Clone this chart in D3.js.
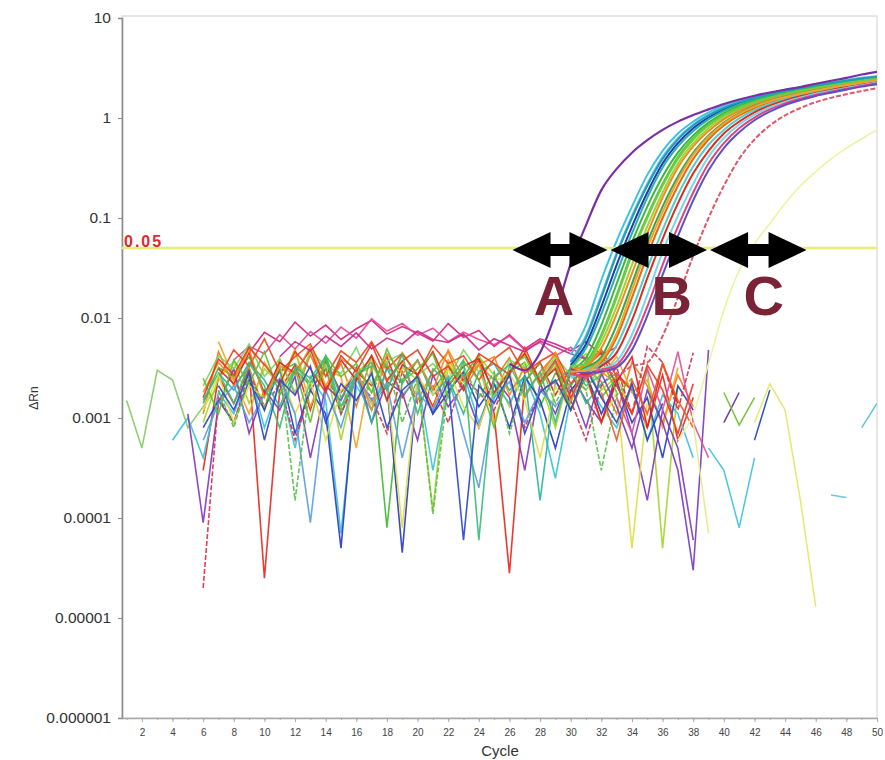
<!DOCTYPE html>
<html lang="en">
<head>
  <meta charset="UTF-8">
  <title>Amplification plot</title>
  <style>
    body { margin: 0; background: #fff; }
    svg { display: block; }
    text { font-family: "Liberation Sans", Arial, sans-serif; }
  </style>
</head>
<body>
  <div id="chart"></div>
  <script src="https://cdn.jsdelivr.net/npm/d3@7/dist/d3.min.js"></script>
  <script>
    // ---- data ----
    const yTicks = [10, 1, 0.1, 0.01, 0.001, 0.0001, 0.00001, 0.000001];
    const yTickLabels = ['10', '1', '0.1', '0.01', '0.001', '0.0001', '0.00001', '0.000001'];
    const xTickLabels = [2, 4, 6, 8, 10, 12, 14, 16, 18, 20, 22, 24, 26, 28, 30, 32, 34, 36, 38, 40, 42, 44, 46, 48, 50];
    const threshold = 0.05;

    // background wells (not amplified / pre-amplification noise): first cycle + dRn per cycle
    const noiseStart = [1, 6, 6, 7, 6, 6, 4, 6, 5, 9, 8, 6, 6, 6, 7, 6, 6, 7, 7, 30, 33, 32, 6, 6, 6, 7, 7, 11];
    const noiseValues = [
      [.0015, .0005, .003, .0024, .0008, .0013, .0021],
      [.0003, .0026, .0014, .0031, .000025, .0019, .0034, .0012, .0037, .0018, .0029, .0021, .0041, .0016, .0027, .0013, .0033, .0024, .0038, .0011, .000028, .0023, .0036, .0017, .0032, .0026, .0009, .0028, .0019, .0008, .0027, .0006, .0016],
      [.0011, .0046, .0021, .0032, .0012, .0039, .0017, .0043, .0019, .0035, .0013, .0042, .0023, .0037, .0015, .0029, .0046, .0019, .0034, .0024, .004, .0016, .0029, .0043, .0018, .0032, .0023, .0011, .0036, .0021, .0009, .0027, .0013],
      [.0058, .0025, .0011, .0036, .0021, .0049, .0013, .0031, .0026, .0005, .0034, .0019, .0045, .0027, .0012, .0038, .0023, .0035, .0009, .0029, .0046, .0021, .0033, .0014, .0037, .0026, .0041, .0018, .0024, .0008, .0032],
      [.0014, .0032, .0026, .0041, .0018, .0029, .0035, .0022, .0039, .0011, .0027, .0033, .00008, .0024, .0038, .0019, .0031, .0026, .0043, .0017, .0029, .0036, .0013, .0028, .0021, .0034, .0016, .0025],
      [.0009, .0025, .0037, .0014, .0031, .0022, .0045, .0019, .0034, .0006, .0028, .0039, .0015, .0032, .0024, .00012, .0035, .0021, .0041, .0027, .0013, .0036, .0023, .0008, .0031, .0044, .0019, .0026, .0011, .0033, .00005, .0021],
      [.0006, .001, .0004, .0018, .0011, .0029, .0008, .0023, .0005, .0026, .0015, .00007, .0021, .0012, .0031, .0017, .0025, .0003, .0019, .0028, .0009, .0022, .0014, .0027, .0011, .00025, .0016, .0024, .0013, .0008, .0021, .0006, .0017, .0011, .0004],
      [.0008, .0015, .0009, .0024, .0012, .0032, .0007, .0019, .0011, .00005, .0027, .0014, .0021, .000045, .0025, .0011, .0018, .0029, .0013, .0022, .0008, .0026, .0015, .0005, .0019, .0028, .0011, .0023, .0009, .0016, .0004, .0021, .0012],
      [.0011, .00009, .0014, .0031, .0007, .0019, .0012, .0026, .0004, .0021, .0015, .0032, .0009, .0023, .0018, .0006, .0027, .0013, .0021, .0008, .0025, .0016, .0003, .0022, .0011, .0028, .0015, .0009, .0024, .0007, .00015, .0012, .0005, .00006],
      [.0045, .0072, .0058, .0091, .0066, .0085, .0061, .0078, .0095, .0069, .0082, .0071, .0059, .0088, .0064, .0075, .0052, .0068, .0049, .0062, .0055, .0047, .0058, .0043, .0051],
      [.0038, .0052, .0044, .0068, .0049, .0073, .0056, .0081, .0063, .0098, .0074, .0088, .0067, .0079, .0058, .0072, .0061, .0054, .0066, .0048, .0057, .0042, .0051, .0039, .0046],
      [.00002, .0016, .0009, .0028, .0013, .0022, .0006, .0019, .0031, .0011, .0024, .0016, .0007, .0029, .0014, .0021, .0009, .0026, .0018, .0012, .0027, .0008, .0019, .0023, .0015, .0006, .0021, .0032, .0011, .0052, .0036, .0012, .0045],
      [.0015, .0028, .0019, .0036, .0024, .0013, .0031, .0021, .0042, .0016, .0027, .0009, .0033, .0022, .0038, .0017, .0025, .0011, .0029, .0035, .0019, .0026, .00015, .0023, .0031, .0014, .0022, .0028],
      [.0021, .0042, .0031, .0055, .0026, .0039, .0018, .0047, .0033, .0028, .0051, .0022, .0037, .0044, .0027, .0035, .0024, .0048, .0029, .0016, .0038, .0032, .0025, .0041, .0027, .0019, .0034],
      [.0025, .0048, .0033, .0062, .0029, .0041, .0055, .0026, .0047, .0036, .0058, .0031, .0044, .0027, .0053, .0035, .0042, .0024, .0039, .0051, .0028, .0037, .0045, .0022, .0034, .0048, .0026, .0019],
      [.0012, .0027, .0009, .0021, .0016, .0033, .0011, .0024, .0006, .0019, .0029, .0014, .0022, .00008, .0025, .0017, .0031, .0013, .0008, .0023, .0028, .0015, .0004, .0021, .0012, .0026, .0009, .0018, .00005, .0014],
      [.0006, .0014, .0021, .0009, .0017, .0025, .0011, .00009, .0019, .0008, .0027, .0015, .0022, .0004, .0018, .0012, .0026, .0007, .0002, .0016, .0023, .0009, .0019, .0013, .0021],
      [.0031, .0022, .0045, .0017, .0036, .0028, .0049, .0019, .0038, .0024, .0042, .0015, .0034, .0027, .0046, .0021, .0033, .0039, .0018, .0029, .0044, .0023, .0031, .0012, .0027, .0009, .0023, .0041, .0008, .0035, .0014],
      [.0019, .0008, .0026, .0013, .0034, .00015, .0023, .0031, .0012, .0027, .0018, .0036, .0009, .0025, .00011, .0021, .0033, .0016, .0029, .0007, .0024, .0035, .0014, .0028, .0019, .0003, .0017, .0025],
      [.0021, .0008, .0028, .0013, .0005, .0019, .0009, .0003, .00003, .0048],
      [.0016, .0007, .0031, .0012, .0046, .0009, .0004],
      [.0018, .0006, .0024, .0011, .0035, .0015, .0008],
      [.0018, .0036, .0024, .0049, .0016, .0033, .0027, .0052, .0021, .0039, .0031, .0012, .0044, .0028, .0037, .0019, .0048, .0025, .0034, .0041, .0017, .0032, .0026, .0045, .0015, .0038, .0029, .0022],
      [.0025, .0011, .0038, .0022, .0046, .0017, .0031, .0009, .0042, .0026, .0035, .0018, .0049, .0023, .0031, .0044, .0016, .0037, .0024, .0008, .0033, .0041, .0021, .0036, .0012, .0029, .0039, .0018],
      [.0016, .0039, .0027, .0051, .0034, .0022, .0046, .0031, .0018, .0042, .0029, .0055, .0024, .0037, .0048, .0026, .0033, .0019, .0044, .0035, .0027, .0051, .0023, .0038, .0016, .0032, .0045, .0021, .0011, .0034, .0019, .0007, .0022],
      [.0029, .0014, .0035, .0021, .0008, .0032, .0025, .0041, .0013, .0027, .0036, .0019, .0043, .0011, .0031, .0023, .0038, .00006, .0026, .0034, .0017, .0029, .0009, .0033, .0021, .0027],
      [.0021, .0012, .0029, .0006, .0024, .0017, .0033, .0009, .0022, .0015, .0028, .0008, .0019, .0026, .0011, .0023, .00006, .0021, .0014, .0027, .0007, .0018, .0024, .0012, .0031, .0016, .0009, .0022, .0006, .0014],
      [.0041, .0058, .0047, .0066, .0052, .0071, .0049, .0063, .0055, .0074, .0061, .0057, .0069, .0048, .0062, .0053, .0046, .0059, .0051, .0044, .0039]
    ];

    // late stray fragments on the right
    const strayStart = [40, 40, 42, 39, 42, 47, 49, 38];
    const strayValues = [
      [.0009, .0018],
      [.0018, .00085, .0016],
      [.0006, .0019],
      [.0005, .0003, .00008, .0004],
      [.0009, .0022, .0012, .00015, .000013],
      [.00017, .00016],
      [.0008, .0014],
      [.0009, .00007]
    ];

    // zone A: earliest amplification (from cycle 26)
    const earlyStart = 26;
    const earlyValues = [.0035, .003, .0045, .011, .035, .085, .19, .31, .45, .6, .76, .92, 1.07, 1.22, 1.38, 1.53, 1.67, 1.8, 1.92, 2.04, 2.2, 2.36, 2.52, 2.72, 2.9];

    // zone B: main group of amplification curves, cycles 30..50
    const bundleStart = 30;
    const bundleValues = [
      [.0043, .0085, .024, .059, .13, .27, .47, .7, .92, 1.14, 1.33, 1.5, 1.65, 1.78, 1.91, 2.04, 2.16, 2.28, 2.4, 2.52, 2.62],
      [.0037, .0067, .017, .045, .105, .22, .41, .63, .86, 1.08, 1.28, 1.45, 1.6, 1.75, 1.87, 2.0, 2.13, 2.25, 2.37, 2.49, 2.59],
      [.0034, .0055, .013, .034, .082, .18, .35, .56, .79, 1.01, 1.22, 1.4, 1.56, 1.7, 1.83, 1.96, 2.09, 2.21, 2.33, 2.45, 2.56],
      [.0032, .005, .011, .028, .07, .16, .32, .52, .74, .97, 1.18, 1.37, 1.53, 1.68, 1.81, 1.93, 2.07, 2.19, 2.31, 2.43, 2.54],
      [.003, .004, .0085, .022, .057, .13, .26, .45, .67, .9, 1.12, 1.32, 1.48, 1.63, 1.77, 1.89, 2.03, 2.15, 2.27, 2.39, 2.51],
      [.0029, .0036, .0068, .017, .046, .105, .22, .41, .63, .86, 1.08, 1.28, 1.45, 1.6, 1.75, 1.87, 2.0, 2.13, 2.25, 2.37, 2.49],
      [.0028, .0034, .0057, .013, .034, .082, .18, .35, .56, .79, 1.01, 1.22, 1.4, 1.56, 1.7, 1.83, 1.96, 2.09, 2.21, 2.33, 2.45],
      [.0031, .0033, .005, .011, .028, .07, .16, .32, .52, .74, .97, 1.18, 1.37, 1.53, 1.68, 1.81, 1.93, 2.07, 2.19, 2.31, 2.43],
      [.0027, .0032, .0041, .0085, .022, .057, .13, .26, .45, .67, .9, 1.12, 1.32, 1.48, 1.63, 1.77, 1.89, 2.03, 2.15, 2.27, 2.39],
      [.003, .0029, .0036, .0064, .016, .042, .1, .21, .39, .61, .84, 1.06, 1.26, 1.44, 1.59, 1.73, 1.86, 1.99, 2.12, 2.24, 2.36],
      [.0026, .0031, .0034, .0053, .012, .031, .076, .17, .33, .54, .76, .99, 1.2, 1.38, 1.55, 1.69, 1.82, 1.95, 2.08, 2.2, 2.32],
      [.0029, .0027, .0033, .0045, .0095, .025, .062, .14, .28, .47, .7, .92, 1.14, 1.33, 1.5, 1.65, 1.78, 1.91, 2.04, 2.16, 2.28],
      [.0025, .003, .0031, .0037, .0068, .017, .046, .105, .22, .41, .63, .86, 1.08, 1.28, 1.45, 1.6, 1.75, 1.87, 2.0, 2.13, 2.25],
      [.0028, .0026, .003, .0034, .0057, .013, .034, .082, .18, .35, .56, .79, 1.01, 1.22, 1.4, 1.56, 1.7, 1.83, 1.96, 2.09, 2.21],
      [.0031, .0028, .0029, .0032, .0048, .0105, .027, .066, .15, .3, .5, .72, .95, 1.16, 1.35, 1.51, 1.66, 1.79, 1.92, 2.06, 2.18],
      [.0028, .0025, .0031, .0027, .0033, .0036, .0066, .016, .042, .1, .21, .39, .61, .84, 1.06, 1.26, 1.44, 1.59, 1.73, 1.86, 1.99],
      [.0033, .0035, .0065, .016, .043, .1, .21, .39, .61, .84, 1.06, 1.26, 1.44, 1.59, 1.73, 1.86, 1.99, 2.12, 2.24, 2.36, 2.48],
      [.0029, .003, .0038, .007, .019, .05, .115, .24, .43, .65, .88, 1.1, 1.3, 1.47, 1.62, 1.76, 1.88, 2.02, 2.14, 2.26, 2.38],
      [.0036, .0063, .016, .043, .1, .21, .39, .61, .84, 1.06, 1.26, 1.44, 1.59, 1.73, 1.86, 1.99, 2.12, 2.24, 2.36, 2.48, 2.58]
    ];

    // zone C: late amplification (from cycle 37)
    const lateStart = 37;
    const lateValues = [.0006, .0011, .0035, .012, .03, .055, .088, .14, .21, .29, .39, .5, .62, .76];

    // annotation zones, in cycles
    const zoneNames = ['A', 'B', 'C'];
    const zoneSpans = [[26.2, 32.4], [32.6, 38.9], [39.1, 45.4]];
    const zoneLabelCycle = [28.9, 36.6, 42.6];

    // ---- styles ----
    const noiseColors = ['#86cc68', '#e8281e', '#f07a18', '#f4a41e', '#44b838', '#a6d62a', '#36c4dc', '#2a3cc0', '#8438bc', '#d82078', '#e4489c',
      '#d8304e', '#2cb49c', '#7cd462', '#f04418', '#dede4a', '#5a9ee6', '#e02020', '#58c048', '#7a3cc0', '#e050a0', '#f05a28',
      '#f28c20', '#60c030', '#ea3a22', '#3cbc78', '#3048c8', '#c82888'];
    const noiseDashed = [11, 18];
    const strayColors = ['#6a3cb0', '#7cc040', '#3450c8', '#48c8e0', '#e4ea70', '#6cc8e0', '#5cc4dc', '#e8ec8a'];
    const bundleColors = ['#3cc3e6', '#6fb6ee', '#2238b4', '#27b3a6', '#3bb83a', '#5cc83e', '#a2d22e', '#f08a1e', '#2fa84e', '#e8680f',
      '#4fcfcf', '#e02a20', '#74d8ea', '#e04482', '#5f4fc0', '#e0566a', '#6ccc48', '#f2a22a', '#1fa0b2'];
    const bundleDashed = [15];

    // ---- chart ----
    const W = 885, H = 760;
    const plot = { left: 122, right: 877, top: 18, bottom: 718 };

    const x = d3.scaleLinear().domain([0.7, 50]).range([plot.left, plot.right]);
    const y = d3.scaleLog().domain([0.000001, 10]).range([plot.bottom, plot.top]);

    const svg = d3.select('#chart').append('svg')
      .attr('width', W)
      .attr('height', H);

    svg.append('rect').attr('width', W).attr('height', H).attr('fill', '#fff');

    svg.append('clipPath').attr('id', 'clip')
      .append('rect')
      .attr('x', plot.left).attr('y', plot.top - 2)
      .attr('width', plot.right - plot.left).attr('height', plot.bottom - plot.top + 2);

    // frame
    svg.append('rect')
      .attr('x', plot.left).attr('y', plot.top - 2)
      .attr('width', plot.right - plot.left).attr('height', plot.bottom - plot.top + 2)
      .attr('fill', 'none')
      .attr('stroke', '#e0e0e0')
      .attr('stroke-width', 1.5);

    // axes
    const yAxis = d3.axisLeft(y)
      .tickValues(yTicks)
      .tickFormat((d, i) => yTickLabels[i])
      .tickSize(4)
      .tickPadding(7);
    const gy = svg.append('g').attr('transform', `translate(${plot.left},0)`).call(yAxis);
    gy.select('.domain').attr('stroke', '#8c8c8c').attr('stroke-width', 1.6);
    gy.selectAll('.tick line').attr('stroke', '#8c8c8c');
    gy.selectAll('.tick text').attr('font-size', 15.5).attr('fill', '#333')
      .attr('font-family', '"Liberation Sans", Arial, sans-serif');

    const xMinor = d3.axisBottom(x).tickValues(d3.range(1, 51)).tickFormat('').tickSize(2).tickSizeOuter(0);
    const gxm = svg.append('g').attr('transform', `translate(0,${plot.bottom})`).call(xMinor);
    gxm.select('.domain').attr('stroke', '#a8a8a8').attr('stroke-width', 1.6);
    gxm.selectAll('.tick line').attr('stroke', '#a8a8a8');

    const xAxis = d3.axisBottom(x).tickValues(xTickLabels).tickSize(4).tickSizeOuter(0).tickPadding(7);
    const gx = svg.append('g').attr('transform', `translate(0,${plot.bottom})`).call(xAxis);
    gx.select('.domain').remove();
    gx.selectAll('.tick line').attr('stroke', '#a8a8a8');
    gx.selectAll('.tick text').attr('font-size', 10).attr('fill', '#444')
      .attr('font-family', '"Liberation Sans Narrow", "Liberation Sans", Arial, sans-serif');

    svg.append('text')
      .attr('x', 500).attr('y', 756)
      .attr('text-anchor', 'middle')
      .attr('font-size', 15).attr('fill', '#333')
      .text('Cycle');

    svg.append('text')
      .attr('transform', 'translate(38,398) rotate(-90)')
      .attr('text-anchor', 'middle')
      .attr('font-size', 12).attr('fill', '#333')
      .text('ΔRn');

    // curves
    const plotArea = svg.append('g').attr('clip-path', 'url(#clip)');
    const toPoints = (start, vals) => vals.map((v, i) => [start + i, v]);
    const straight = d3.line().x(d => x(d[0])).y(d => y(d[1]));
    const smooth = d3.line().x(d => x(d[0])).y(d => y(d[1])).curve(d3.curveMonotoneX);

    plotArea.selectAll('path.noise')
      .data(noiseValues)
      .join('path')
      .attr('class', 'noise')
      .attr('d', (vals, i) => straight(toPoints(noiseStart[i], vals)))
      .attr('fill', 'none')
      .attr('stroke', (d, i) => noiseColors[i])
      .attr('stroke-width', 1.6)
      .attr('stroke-opacity', 0.92)
      .attr('stroke-dasharray', (d, i) => noiseDashed.includes(i) ? '5,2' : null);

    plotArea.selectAll('path.stray')
      .data(strayValues)
      .join('path')
      .attr('class', 'stray')
      .attr('d', (vals, i) => straight(toPoints(strayStart[i], vals)))
      .attr('fill', 'none')
      .attr('stroke', (d, i) => strayColors[i])
      .attr('stroke-width', 1.5);

    plotArea.selectAll('path.bundle')
      .data(bundleValues)
      .join('path')
      .attr('class', 'bundle')
      .attr('d', (vals, i) => smooth(toPoints(bundleStart, vals)))
      .attr('fill', 'none')
      .attr('stroke', (d, i) => bundleColors[i])
      .attr('stroke-width', 2)
      .attr('stroke-dasharray', (d, i) => bundleDashed.includes(i) ? '5,2' : null);

    plotArea.append('path')
      .attr('d', smooth(toPoints(lateStart, lateValues)))
      .attr('fill', 'none')
      .attr('stroke', '#eef3a4')
      .attr('stroke-width', 1.6);

    plotArea.append('path')
      .attr('d', smooth(toPoints(earlyStart, earlyValues)))
      .attr('fill', 'none')
      .attr('stroke', '#7a2ea6')
      .attr('stroke-width', 2.2);

    // threshold
    svg.append('line')
      .attr('x1', plot.left).attr('x2', plot.right)
      .attr('y1', y(threshold)).attr('y2', y(threshold))
      .attr('stroke', '#e4ee78')
      .attr('stroke-width', 2.5);

    svg.append('text')
      .attr('x', plot.left + 2).attr('y', y(threshold) - 1)
      .attr('font-family', '"Liberation Serif", "Times New Roman", serif')
      .attr('font-weight', 'bold')
      .attr('font-size', 16)
      .attr('letter-spacing', 2)
      .attr('fill', '#e0282a')
      .text('0.05');

    // double arrows for the zones
    const arrowY = y(threshold) + 2;
    function arrowPath(x1, x2, cy) {
      const head = 38, hh = 18, sh = 6;
      return `M${x1},${cy} L${x1 + head},${cy - hh} L${x1 + head},${cy - sh} L${x2 - head},${cy - sh} L${x2 - head},${cy - hh} ` +
        `L${x2},${cy} L${x2 - head},${cy + hh} L${x2 - head},${cy + sh} L${x1 + head},${cy + sh} L${x1 + head},${cy + hh} Z`;
    }
    svg.selectAll('path.arrow')
      .data(zoneSpans)
      .join('path')
      .attr('class', 'arrow')
      .attr('d', d => arrowPath(x(d[0]), x(d[1]), arrowY))
      .attr('fill', '#000');

    svg.selectAll('text.zone')
      .data(zoneNames)
      .join('text')
      .attr('class', 'zone')
      .attr('x', (d, i) => x(zoneLabelCycle[i]))
      .attr('y', 315)
      .attr('text-anchor', 'middle')
      .attr('font-weight', 'bold')
      .attr('font-size', 56)
      .attr('fill', '#7a2236')
      .text(d => d);
  </script>
</body>
</html>
